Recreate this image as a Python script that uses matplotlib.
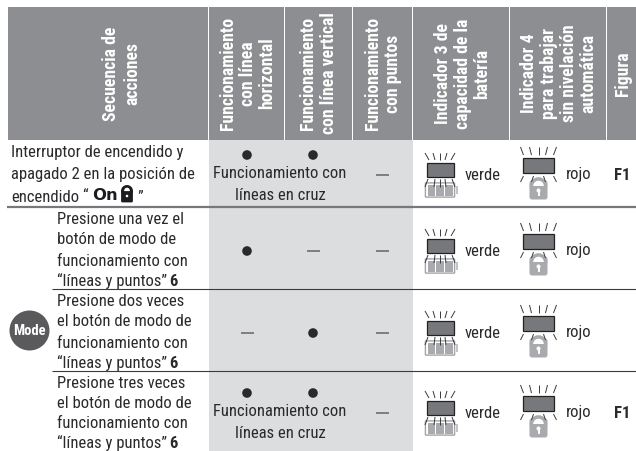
import matplotlib
matplotlib.use("Agg")
import matplotlib.pyplot as plt
from matplotlib.patches import Rectangle, Circle, FancyBboxPatch

plt.rcParams['font.family'] = ['Roboto Condensed', 'Archivo Narrow', 'Roboto', 'DejaVu Sans']

W, H = 636, 451
col_edges = [7, 208.5, 284, 352.5, 412.5, 509.5, 606, 636]
row_edges = [7, 140, 207, 289, 371, 451]
HEAD = '#8d8e91'; SHADE = '#dcddde'; TXT = '#2a2a2c'; RULE = '#77787b'

headers = [
    (["Secuencia de", "acciones"], [111, 132]),
    (["Funcionamiento", "con línea", "horizontal"], [228, 248, 267]),
    (["Funcionamiento", "con línea vertical"], [308, 329]),
    (["Funcionamiento", "con puntos"], [373, 393]),
    (["Indicador 3 de", "capacidad de la", "batería"], [443, 463, 482]),
    (["Indicador 4", "para trabajar", "sin nivelación", "automática"], [529, 549, 569, 588]),
    (["Figura"], [623]),
]
row_text = [
    (11, [153, 174], ["Interruptor de encendido y", "apagado 2 en la posición de"]),
    (57, [220, 240, 261], ["Presione una vez el", "botón de modo de", "funcionamiento con"]),
    (57, [302, 322, 343], ["Presione dos veces", "el botón de modo de", "funcionamiento con"]),
    (57, [383, 403, 424], ["Presione tres veces", "el botón de modo de", "funcionamiento con"]),
]
last_line_y = [None, 281, 363, 443.5]
row_center = [175, 251, 333, 413]
col_h = ['o', 'o', '-', 'o']
col_v = ['o', '-', 'o', 'o']
col_p = ['-', '-', '-', '-']
cross_rows = [True, False, False, True]
figure_labels = ["F1", "", "", "F1"]
x_h, x_v, x_p = 247, 313, 382.5

fig = plt.figure(figsize=(W/100, H/100), dpi=100, facecolor='white')
ax = fig.add_axes([0, 0, 1, 1])
ax.set_xlim(0, W); ax.set_ylim(H, 0); ax.axis('off')

def T(x, y, s, size=12.0, color=TXT, ha='left', weight='normal', rot=0, **k):
    return ax.text(x, y, s, fontsize=size, color=color, ha=ha, va='center', fontweight=weight,
                   rotation=rot, rotation_mode='anchor' if rot == 0 else 'default', **k)

def ln(x, y, color=TXT, lw=0.9, **k):
    ax.plot(x, y, color=color, lw=lw, solid_capstyle='butt', **k)

for a, b in zip(col_edges[:-1], col_edges[1:]):
    ax.add_patch(Rectangle((a+0.5, row_edges[0]), b-a-1, row_edges[1]-row_edges[0], fc=HEAD, ec='none'))
ax.add_patch(Rectangle((col_edges[1]+0.5, row_edges[1]), col_edges[4]-col_edges[1]-0.5, H-row_edges[1], fc=SHADE, ec='none'))
for (lines, xs) in headers:
    for s, x in zip(lines, xs):
        T(x, 73.5, s, size=12.7, color='white', ha='center', weight='bold', rot=90)

ln([col_edges[0], W], [207, 207], color=RULE, lw=1.6)
for y in row_edges[3:5]:
    ln([52, W], [y, y], color='#3a3a3c', lw=0.8)

for x, ys, lines in row_text:
    for y, s in zip(ys, lines):
        T(x, y, s)
T(11, 197, "encendido")
T(82, 197, "“")
T(92.5, 195, "On", size=11.8, weight='bold', color='#1c1c1e', family=['DejaVu Sans'])
ax.add_patch(Circle((127, 191), 6, fc='#1c1c1e', ec='none', zorder=3))
ax.add_patch(Circle((127, 190.5), 2.8, fc='white', ec='none', zorder=4))
ax.add_patch(FancyBboxPatch((122.5, 192.5), 9, 8.5, boxstyle='round,pad=1.4', fc='#1c1c1e', ec='none', zorder=5))
ax.add_patch(Circle((127, 196), 1.3, fc='white', ec='none', zorder=6))
T(137, 197, "”")
for y in last_line_y[1:]:
    T(57, y, "“líneas y puntos”")
    T(169.5, y, "6", weight='bold')

ax.add_patch(Circle((29.5, 330.5), 20, fc='#5a5a5d', ec='none'))
T(29.5, 331, "Mode", size=10.5, color='white', ha='center', weight='bold')

def mark(x, y, kind):
    if kind == 'o':
        ax.add_patch(Circle((x, y), 4.8, fc='#2a2a2c', ec='none'))
    else:
        ln([x-6.5, x+6.5], [y, y], color='#6d6e71', lw=1.2)

for i, c in enumerate(row_center):
    if cross_rows[i]:
        dy = c - 20
        mark(x_h, dy, 'o'); mark(x_v, dy, 'o')
        T(280, c-1, "Funcionamiento con", ha='center')
        T(280, c+20, "líneas en cruz", ha='center')
    else:
        mark(x_h, c, col_h[i]); mark(x_v, c, col_v[i])
    mark(x_p, c, col_p[i])

def rays(cx, y0, y1, tops, tips):
    for a, b in zip(tops, tips):
        ln([cx+a, cx+b], [y0, y1], color='#3a3a3c', lw=0.7, zorder=7)

def battery(c):
    x0 = 426.5
    ax.add_patch(Rectangle((x0, c-12.5), 27, 14, fc='#77787b', ec='#222', lw=0.9))
    rays(x0+13.5, c-15, c-22, [-11, -5, 0, 5, 11], [-15, -7, 0, 7, 15])
    ax.add_patch(FancyBboxPatch((x0-0.5, c+8.5), 28, 13, boxstyle='round,pad=0.6', fc='white', ec='#a3a4a7', lw=1.0))
    for i in range(3):
        ax.add_patch(Rectangle((x0+1+i*8.7, c+9.5), 7.8, 11, fc='#a9aaad', ec='none'))
    ax.add_patch(Rectangle((x0+29, c+11), 2, 7.5, fc='#c3c4c6', ec='none'))
    rays(x0+13.5, c+12, c+4, [-15, -6, 0, 6, 15], [-12, -5, 0, 5, 12])

def lock(c):
    x0 = 523
    ax.add_patch(Rectangle((x0, c-17.5), 31, 15.5, fc='#77787b', ec='#222', lw=0.9))
    rays(x0+15.5, c-20, c-28, [-15, -7, 0, 7, 15], [-18, -9, 0, 9, 18])
    ax.add_patch(FancyBboxPatch((x0+9, c+8), 13, 14, boxstyle='round,pad=2.5', fc='#a9aaad', ec='none'))
    ax.add_patch(Circle((x0+15.5, c+11), 8.8, fc='#a9aaad', ec='none'))
    ax.add_patch(Circle((x0+15.5, c+11), 5.3, fc='white', ec='none'))
    ax.add_patch(Rectangle((x0+8, c+11), 15, 13, fc='#a9aaad', ec='none'))
    ax.add_patch(Circle((x0+15.5, c+15.5), 2, fc='white', ec='none'))
    ln([x0+15.5, x0+15.5], [c+16, c+21], color='white', lw=1.4)
    rays(x0+15.5, c+1, c+7, [-15, -5, 5, 15], [-18, -7, 7, 18])

for i, c in enumerate(row_center):
    battery(c)
    T(465, c, "verde")
    lock(c)
    T(566, c, "rojo")
    if figure_labels[i]:
        T(614, c, figure_labels[i], weight='bold')

fig.savefig('out.png', dpi=100)
